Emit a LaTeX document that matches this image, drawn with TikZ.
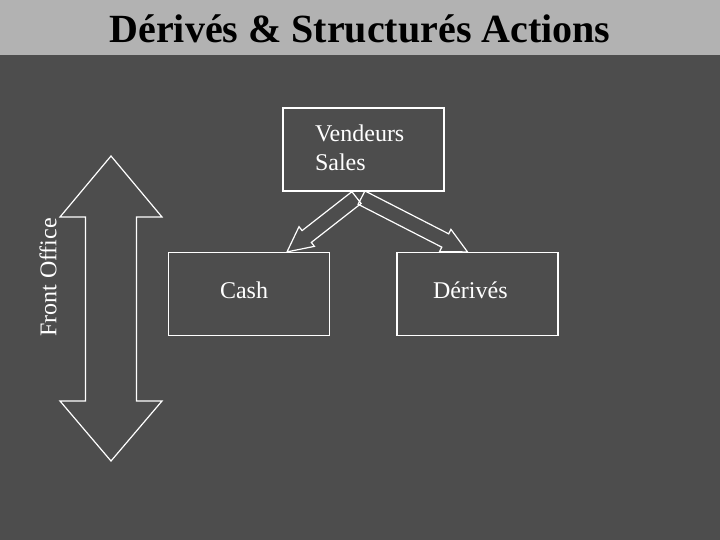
\documentclass[tikz,border=0pt]{standalone}
\usepackage{fontspec}
\setmainfont{Liberation Serif}
\usetikzlibrary{calc,positioning}

\definecolor{slidebg}{RGB}{77,77,77}
\definecolor{titlebar}{RGB}{178,178,178}

%% block arrow outline from a tail coordinate to a tip coordinate
\newcommand{\blockarrow}[2]{%
  \coordinate (hd) at ($(#2)!25pt!(#1)$);
  \draw[blk] ($(#1)!7.5pt!90:(#2)$) -- ($(hd)!7.5pt!-90:(#1)$)
    -- ($(hd)!12.5pt!-90:(#1)$) -- (#2) -- ($(hd)!12.5pt!90:(#1)$)
    -- ($(hd)!7.5pt!90:(#1)$) -- ($(#1)!7.5pt!-90:(#2)$) -- cycle;}

\begin{document}
\begin{tikzpicture}[
    x=1pt, y=-1pt,
    txt/.style={font=\fontsize{24}{29}\selectfont, text=white},
    box/.style={draw=white, line width=1.2pt, txt, align=left,
                minimum width=161pt, minimum height=83pt, inner sep=0pt},
    blk/.style={draw=white, line width=1.2pt, line join=miter},
]

%% ── Slide background ────────────────────────────────────────────────────────
\fill[slidebg] (0,0) rectangle (720,540);
\fill[titlebar] (0,0) rectangle (720,55);
\useasboundingbox (0,0) rectangle (720,540);

\node[font=\fontsize{40}{48}\selectfont\bfseries, anchor=base] (title)
  at (360,43) {Dérivés \& Structurés Actions};

%% ── Boxes ───────────────────────────────────────────────────────────────────
\node[box, text width=97pt, text depth=33pt] (sales) at (363.5,149.5) {Vendeurs\\Sales};
\node[box, text width=58pt, text depth=8pt] (cash)  at (249,294)     {Cash};
\node[box, text width=89pt, text depth=8pt] (deriv) at (477.5,294)   {Dérivés};

%% ── Block arrows : Sales → Cash, Sales → Dérivés ───────────────────────────
\coordinate (tailL) at ($(sales.south)+(-7,6)$);
\coordinate (tailR) at ($(sales.south)+(-2,6)$);
\coordinate (tipL)  at ($(cash.north)+(38,0)$);
\coordinate (tipR)  at ($(deriv.north)+(-10,0)$);
\blockarrow{tailL}{tipL}
\blockarrow{tailR}{tipR}

%% ── Front Office span : vertical double arrow ───────────────────────────────
\draw[blk] (111,156) -- (162,217) -- (136.5,217) -- (136.5,401)
  -- (162,401) -- (111,461) -- (60,401) -- (85.5,401)
  -- (85.5,217) -- (60,217) -- cycle;
\node[txt, rotate=90, inner sep=0pt] (fo) at (48,277.5) {Front Office};

\end{tikzpicture}
\end{document}
